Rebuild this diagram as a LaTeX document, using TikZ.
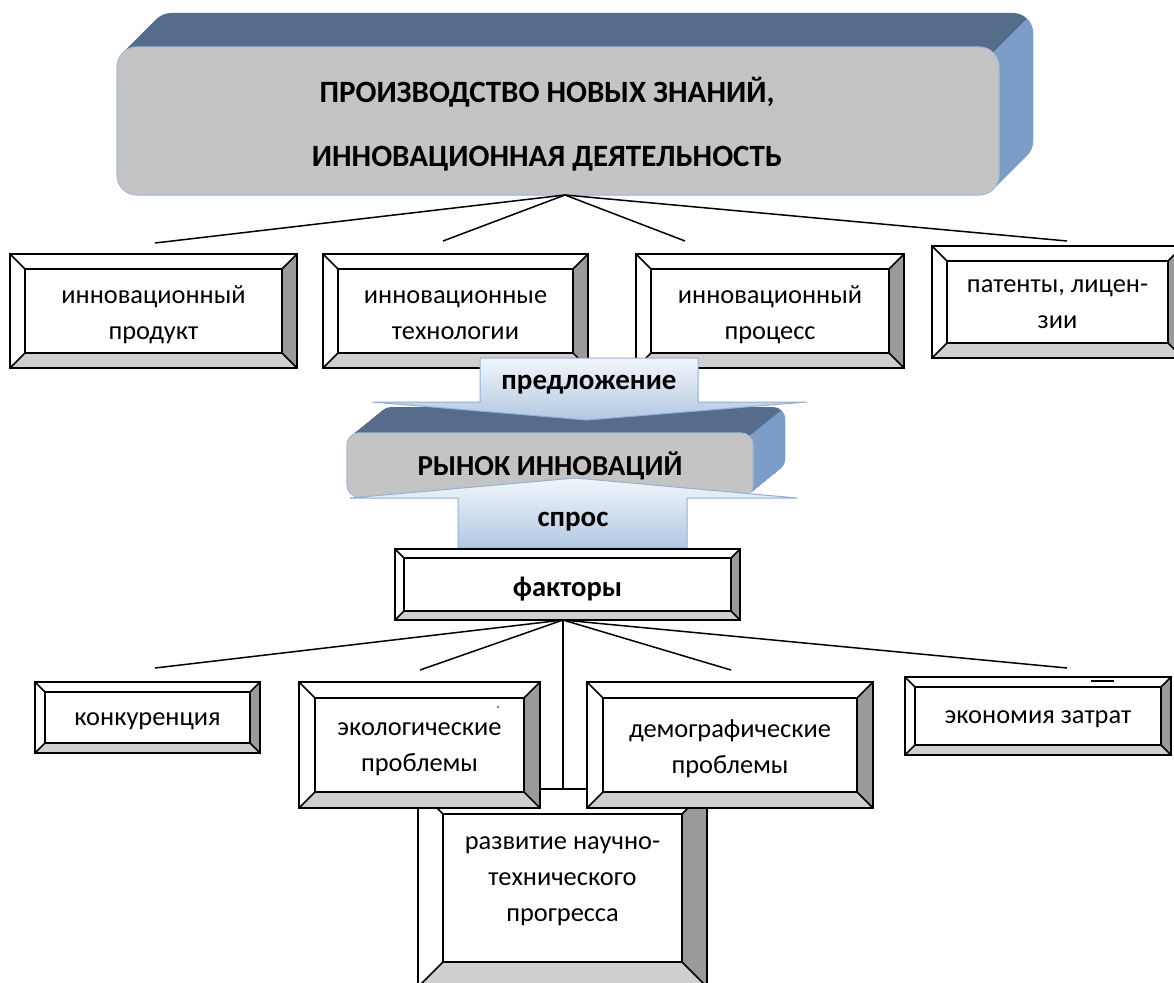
\documentclass[tikz,border=0pt]{standalone}
\usepackage{fontspec}
\setmainfont{Carlito}
\usetikzlibrary{calc}
\definecolor{topdark}{HTML}{566C8C}
\definecolor{sideblue}{HTML}{7B9DC8}
\definecolor{frontgray}{HTML}{C4C4C4}
\definecolor{frontborder}{HTML}{A7BBD8}
\definecolor{arrowtop}{HTML}{F2F6FB}
\definecolor{arrowbot}{HTML}{B3C7E2}
\definecolor{arrowborder}{HTML}{93B0D6}
\definecolor{bevright}{HTML}{9A9A9A}
\definecolor{bevbot}{HTML}{CFCFCF}
\tikzset{
  boxline/.style={draw=black, line width=1.6pt},
  conn/.style={draw=black, line width=1.5pt},
  boxtext/.style={font=\fontsize{26.4}{36}\selectfont, align=center, inner sep=0pt},
  boldtext/.style={font=\fontsize{31}{64}\selectfont\bfseries, align=center, inner sep=0pt},
  arrowtext/.style={font=\fontsize{29}{32}\selectfont\bfseries, inner sep=0pt},
  blockarrow/.style={top color=arrowtop, bottom color=arrowbot, draw=arrowborder, line width=1pt},
}
% #1 name, #2 x1, #3 y1, #4 x2, #5 y2, #6 bevel, #7 text y, #8 text
\newcommand{\bevbox}[8]{%
  \fill[white] (#2,#3) rectangle (#4,#5);
  \fill[bevbot] (#2,#5) -- (#4,#5) -- ({#4-#6},{#5-#6}) -- ({#2+#6},{#5-#6}) -- cycle;
  \fill[bevright] (#4,#3) -- (#4,#5) -- ({#4-#6},{#5-#6}) -- ({#4-#6},{#3+#6}) -- cycle;
  \draw[boxline] (#2,#3) rectangle (#4,#5);
  \draw[boxline] ({#2+#6},{#3+#6}) rectangle ({#4-#6},{#5-#6});
  \draw[boxline] (#2,#3) -- ({#2+#6},{#3+#6}) (#4,#3) -- ({#4-#6},{#3+#6})
                 (#2,#5) -- ({#2+#6},{#5-#6}) (#4,#5) -- ({#4-#6},{#5-#6});
  \node[boxtext] (#1) at ({(#2+#4)/2},#7) {#8};
}
% #1 x1, #2 y1, #3 x2, #4 y2, #5 radius, #6 dx, #7 dy, #8 steps
\newcommand{\solidbox}[8]{%
  \foreach \i in {#8,...,0}{
    \fill[topdark, rounded corners=#5pt] ({#1+\i*#6/#8},{#2+\i*#7/#8}) rectangle ({#3+\i*#6/#8},{#4+\i*#7/#8});
  }
  \begin{scope}
    \clip ({#3-0.29*#5},{#2+0.29*#5}) -- ++({3*#6},{3*#7}) -- ({#3+3*#6+50},{#4+50}) -- ({#3-0.29*#5},{#4+50}) -- cycle;
    \foreach \i in {#8,...,0}{
      \fill[sideblue, rounded corners=#5pt] ({#1+\i*#6/#8},{#2+\i*#7/#8}) rectangle ({#3+\i*#6/#8},{#4+\i*#7/#8});
    }
  \end{scope}
  \filldraw[fill=frontgray, draw=frontborder, line width=1.2pt, rounded corners=#5pt] (#1,#2) rectangle (#3,#4);
}
\begin{document}
\begin{tikzpicture}[x=1pt,y=-1pt]
\useasboundingbox (0,0) rectangle (1174,982);
\fill[white] (0,0) rectangle (1174,982);

% top solid box
\solidbox{117}{47}{999}{195}{20}{34}{-34}{34}
\node[boldtext] (top) at (547,124) {ПРОИЗВОДСТВО НОВЫХ ЗНАНИЙ,\\ИННОВАЦИОННАЯ ДЕЯТЕЛЬНОСТЬ};

% connectors from top box
\coordinate (apexA) at (565,195);
\coordinate (ea) at (155,243);
\coordinate (eb) at (443,241);
\coordinate (ec) at (685,241);
\coordinate (ed) at (1067,241);
\draw[conn] (ea) -- (apexA) -- (ed);
\draw[conn] (eb) -- (apexA) -- (ec);

% first row
\bevbox{prod}{10}{254}{297}{368}{15}{315}{инновационный\\продукт}
\bevbox{tech}{323}{254}{588}{368}{15}{315}{инновационные\\технологии}
\bevbox{proc}{636}{254}{904}{368}{15}{315}{инновационный\\процесс}
\bevbox{pat}{932}{246}{1183}{358}{15}{304}{патенты, лицен-\\зии}

% market box
\solidbox{347}{433}{753}{497}{12}{32}{-26}{32}
\node[boldtext, font=\fontsize{29}{34}\selectfont\bfseries] (market) at (550,466) {РЫНОК ИННОВАЦИЙ};

% supply arrow
\shadedraw[blockarrow] (480,358) -- (698,358) -- (698,402) -- (807,402) -- (587,420) -- (372,402) -- (480,402) -- cycle;
\node[arrowtext] (supply) at (589,385) {предложение};

% demand arrow
\shadedraw[blockarrow] (350,498) -- (575,478) -- (797,498) -- (687,498) -- (687,548) -- (458,548) -- (458,498) -- cycle;
\node[arrowtext] (demand) at (573,522) {спрос};

% factors
\bevbox{fact}{395}{549}{740}{620}{9}{589}{\bfseries\fontsize{28.5}{32}\selectfont факторы}

% connectors from factors
\coordinate (apexB) at (563,620);
\coordinate (fa) at (155,668);
\coordinate (fb) at (420,670);
\coordinate (fc) at (563,789);
\coordinate (fd) at (731,670);
\coordinate (fe) at (1067,668);
\draw[conn] (fa) -- (apexB) -- (fe);
\draw[conn] (fb) -- (apexB) -- (fd);

% bottom box (behind)
\bevbox{progress}{418}{789}{707}{987}{25}{881}{развитие научно-\\технического\\прогресса}
\draw[conn] (apexB) -- (fc);

% bottom row
\bevbox{konk}{35}{682}{260}{753}{10}{721}{конкуренция}
\bevbox{eco}{299}{682}{540}{808}{16}{749}{экологические\\проблемы}
\bevbox{demo}{587}{682}{873}{808}{16}{749}{демографические\\проблемы}
\bevbox{econ}{905}{677}{1171}{755}{10}{719}{экономия затрат}
\draw[line width=1.5pt] (1091,681) -- (1114,681);
\fill[black] (498,707) circle (0.9);
\end{tikzpicture}
\end{document}
